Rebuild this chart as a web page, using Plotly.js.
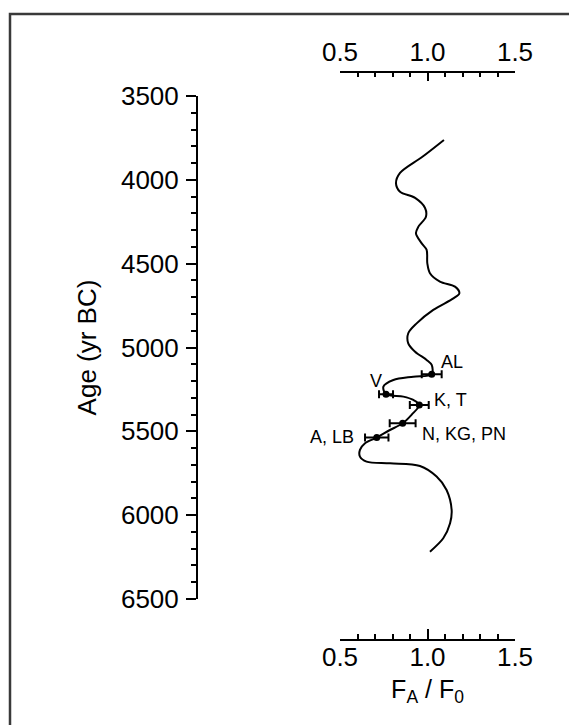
<!DOCTYPE html>
<html>
<head>
<meta charset="utf-8">
<script src="https://cdn.plot.ly/plotly-3.0.1.min.js"></script>
<style>html,body{margin:0;padding:0;background:#fff;}#chart{width:569px;height:725px;}</style>
</head>
<body>
<div id="chart"></div>
<script>
// Curve: archaeointensity ratio F_A/F_0 vs age (yr BC)
const curveAge = [3762, 3864, 3959, 4021, 4071, 4108, 4168, 4220, 4279, 4319, 4379, 4418, 4498, 4557, 4607, 4637, 4677, 4707, 4776, 4856, 4915, 4975, 5025, 5074, 5104, 5160, 5174, 5194, 5233, 5279, 5293, 5313, 5343, 5400, 5452, 5495, 5537, 5571, 5611, 5651, 5681, 5691, 5707, 5770, 5850, 5969, 6048, 6138, 6218];
const curveFa  = [1.094, 0.969, 0.843, 0.820, 0.843, 0.929, 0.986, 0.991, 0.948, 0.934, 0.967, 0.995, 0.999, 1.014, 1.071, 1.157, 1.182, 1.148, 1.033, 0.938, 0.890, 0.890, 0.929, 0.995, 1.024, 1.024, 0.919, 0.805, 0.748, 0.763, 0.862, 0.919, 0.953, 0.910, 0.858, 0.780, 0.710, 0.643, 0.614, 0.614, 0.652, 0.786, 0.957, 1.052, 1.109, 1.138, 1.129, 1.090, 1.014];

// Site data points
const siteLabels = ["AL", "V", "K, T", "N, KG, PN", "A, LB"];
const siteAge = [5160, 5279, 5343, 5452, 5537];
const siteFa  = [1.024, 0.763, 0.953, 0.858, 0.710];
const siteErr = [0.057, 0.040, 0.054, 0.074, 0.067];

// Axis ticks
const yTickVals = [3500, 4000, 4500, 5000, 5500, 6000, 6500];
const xTickVals = [0.5, 1.0, 1.5];
const xTickText = ["0.5", "1.0", "1.5"];

const FONT = "Liberation Sans, Arial, Helvetica, sans-serif";

const traces = [
  {
    x: curveFa, y: curveAge, type: "scatter", mode: "lines",
    line: {color: "#000", width: 2, shape: "spline", smoothing: 0.9},
    hoverinfo: "skip", showlegend: false
  },
  {
    x: siteFa, y: siteAge, type: "scatter", mode: "markers",
    marker: {color: "#000", size: 7},
    error_x: {type: "data", array: siteErr, visible: true, color: "#000", thickness: 2, width: 4},
    showlegend: false
  }
];

// label offsets in px relative to each point
const labelStyle = [
  {xanchor: "left", xshift: 7, yshift: 12},
  {xanchor: "center", xshift: -10, yshift: 13},
  {xanchor: "left", xshift: 13, yshift: 5},
  {xanchor: "left", xshift: 17, yshift: -11},
  {xanchor: "right", xshift: -21, yshift: 1}
];
const annotations = siteLabels.map((t, i) => Object.assign({
  x: siteFa[i], y: siteAge[i], xref: "x", yref: "y", text: t, showarrow: false,
  yanchor: "middle", font: {family: FONT, size: 18, color: "#000"}
}, labelStyle[i]));

// paper spans x 197..515 px, y 72..640 px
const L = 197, R = 569 - 515, T = 72, B = 725 - 640;
const PW = 569 - L - R, PH = 725 - T - B;
const px = v => (v - L) / PW;
const py = v => (725 - B - v) / PH;

const layout = {
  width: 569, height: 725,
  margin: {l: L, r: R, t: T, b: B, pad: 0},
  paper_bgcolor: "#fff", plot_bgcolor: "rgba(0,0,0,0)",
  font: {family: FONT, color: "#000"},
  showlegend: false,
  xaxis: {
    domain: [px(340), 1], range: [0.5, 1.5], anchor: "free", position: 0, side: "bottom",
    showgrid: false, zeroline: false, showline: true, linecolor: "#000", linewidth: 2,
    ticks: "inside", ticklen: 10, tickwidth: 2, tickcolor: "#000",
    tickvals: xTickVals, ticktext: xTickText, tickfont: {size: 26, family: FONT},
    ticklabelstandoff: -6,
    minor: {dtick: 0.1, ticks: "inside", ticklen: 5, tickwidth: 2, tickcolor: "#000", showgrid: false},
    title: {text: "F<sub>A</sub> / F<sub>0</sub>", font: {size: 25, family: FONT}, standoff: 8}
  },
  xaxis2: {
    domain: [px(340), 1], range: [0.5, 1.5], anchor: "free", position: 1, side: "top", overlaying: "x",
    showgrid: false, zeroline: false, showline: true, linecolor: "#000", linewidth: 2,
    ticks: "inside", ticklen: 8, tickwidth: 2, tickcolor: "#000",
    tickvals: xTickVals, ticktext: xTickText, tickfont: {size: 26, family: FONT},
    ticklabelstandoff: 0,
    minor: {dtick: 0.1, ticks: "inside", ticklen: 4, tickwidth: 2, tickcolor: "#000", showgrid: false}
  },
  yaxis: {
    domain: [py(599), py(96)], range: [6500, 3500], anchor: "free", position: 0,
    showgrid: false, zeroline: false, showline: true, linecolor: "#000", linewidth: 2,
    ticks: "outside", ticklen: 10, tickwidth: 2, tickcolor: "#000",
    tickvals: yTickVals, tickfont: {size: 26, family: FONT}, ticklabelstandoff: 2,
    minor: {dtick: 100, ticks: "outside", ticklen: 5, tickwidth: 2, tickcolor: "#000", showgrid: false},
    title: {text: "Age (yr BC)", font: {size: 26, family: FONT}, standoff: 16}
  },
  annotations: annotations,
  shapes: [{
    type: "path", xref: "paper", yref: "paper",
    path: `M ${px(10)} ${py(726)} L ${px(10)} ${py(14)} L ${px(570)} ${py(14)}`,
    line: {color: "#3a3a3a", width: 2.5}
  }]
};

// dummy trace to activate xaxis2
traces.push({x: [0.5], y: [3500], xaxis: "x2", yaxis: "y", mode: "markers", marker: {opacity: 0}, hoverinfo: "skip", showlegend: false});

Plotly.newPlot("chart", traces, layout, {staticPlot: true, displayModeBar: false});
</script>
</body>
</html>
